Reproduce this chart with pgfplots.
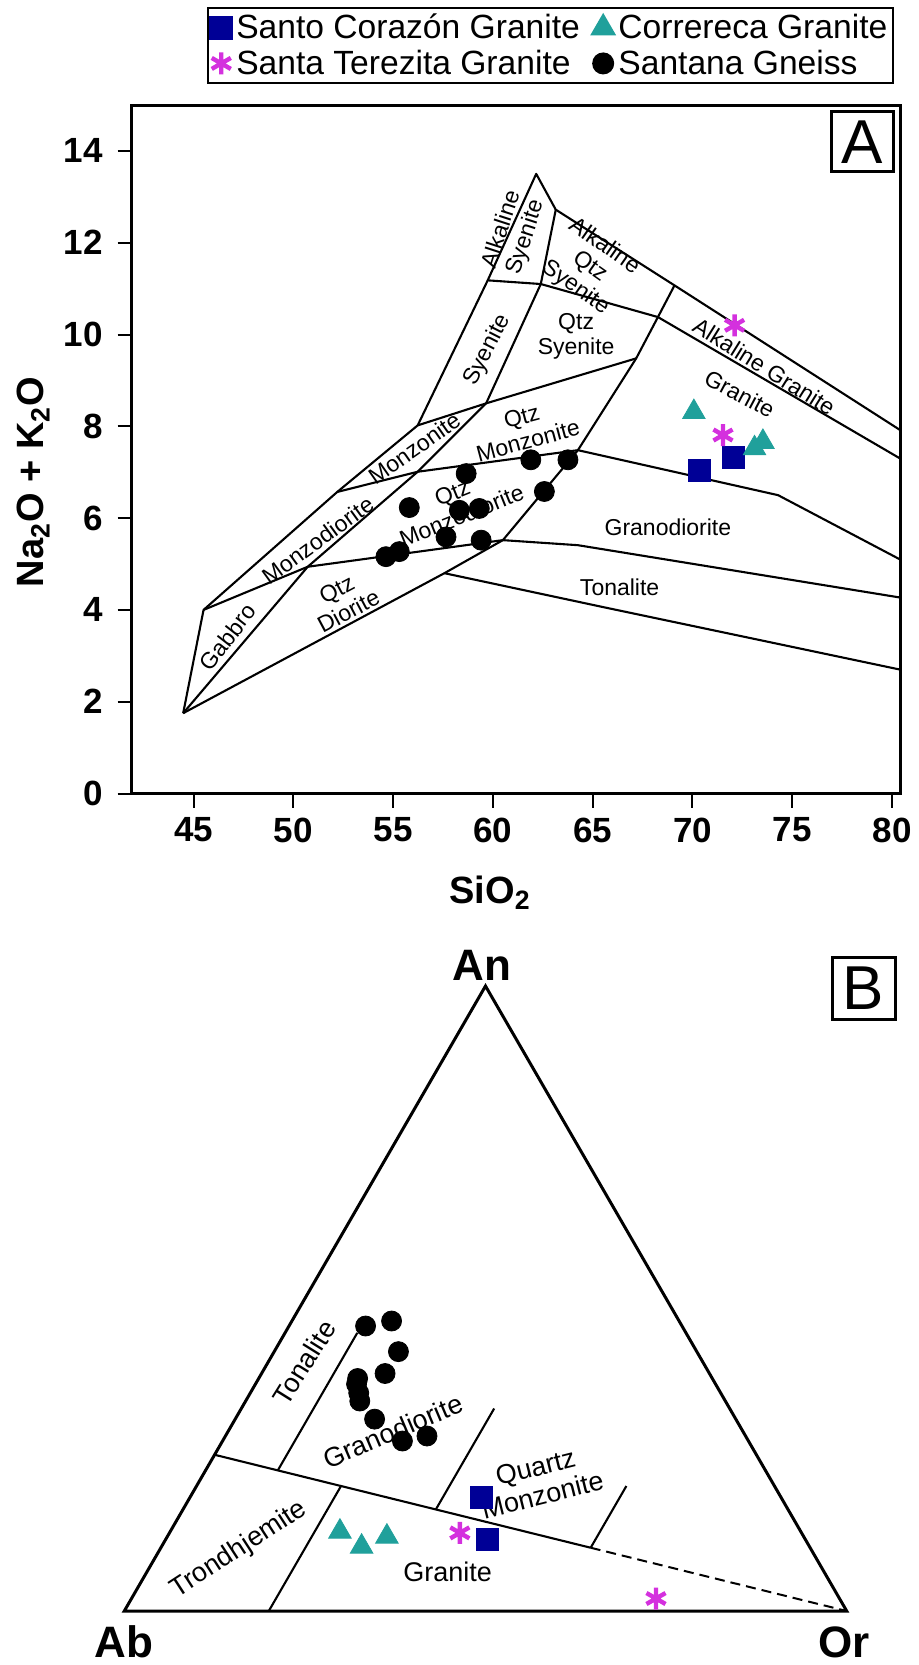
\documentclass[border=0pt]{standalone}
\usepackage{fontspec}
\setmainfont{Liberation Sans}
\usepackage{pgfplots}
\pgfplotsset{compat=1.18}
\usepackage{pgfplotstable}
\definecolor{scblue}{RGB}{0,0,150}
\definecolor{crteal}{RGB}{32,160,155}
\definecolor{stmag}{RGB}{212,48,222}

% TAS data (SiO2, Na2O+K2O)
\pgfplotstableread{
x y
70.36 7.04
72.03 7.32
}\tasSC
\pgfplotstableread{
x y
70.07 8.31
73.53 7.66
73.11 7.52
}\tasCR
\pgfplotstableread{
x y
72.11 10.20
71.53 7.81
}\tasST
\pgfplotstableread{
x y
55.81 6.23
58.66 6.97
58.32 6.17
59.32 6.21
57.65 5.59
59.41 5.52
54.64 5.16
55.31 5.27
61.90 7.27
63.76 7.27
62.58 6.58
}\tasSG

% Ternary data (An, Or in %)
\pgfplotstableread{
An Or
18.1 40.4
11.4 44.5
}\terSC
\pgfplotstableread{
An Or
12.7 23.5
10.3 27.7
11.9 30.4
}\terCR
\pgfplotstableread{
An Or
12.5 40.2
2.0 72.6
}\terST
\pgfplotstableread{
An Or
45.6 10.6
46.4 13.8
41.5 17.2
38.0 17.1
37.2 13.7
36.3 14.0
34.9 15.0
33.6 15.8
30.7 19.3
27.2 24.9
28.0 27.9
}\terSG

\tikzset{
  lab/.style={font=\fontsize{11.5}{12.5}\selectfont, align=center, inner sep=0pt},
  tlab/.style={font=\fontsize{13.5}{14.5}\selectfont, align=center, inner sep=0pt},
}
\pgfplotsset{
  bnd/.style={black, line width=1.05pt, mark=none, line join=round},
  mSC/.style={only marks, mark=square*, mark size=5.5pt, draw=scblue, fill=scblue},
  mCR/.style={only marks, mark=triangle*, mark size=6.5pt, draw=crteal, fill=crteal},
  mST/.style={only marks, mark=asterisk, mark size=5.5pt, draw=stmag, line width=2.2pt},
  mSG/.style={only marks, mark=*, mark size=5pt, draw=black, fill=black},
}

\begin{document}
\begin{tikzpicture}
\useasboundingbox (0,0) rectangle (459.5pt,-832.5pt);

% ---------------- A: TAS -----------------
\begin{axis}[
  at={(65.85pt,-396.75pt)}, anchor=south west,
  scale only axis, width=384.15pt, height=344.25pt,
  xmin=41.9, xmax=80.4, ymin=0, ymax=15,
  xtick={45,50,...,80}, ytick={0,2,...,14},
  tick pos=left, tick align=outside, major tick length=7pt,
  axis line style={line width=1.5pt},
  every tick/.style={black, line width=1pt},
  tick label style={font=\fontsize{17.5}{20}\selectfont\bfseries},
  xticklabel style={yshift=-1.5pt},
  yticklabel style={xshift=-4pt},
  /pgf/number format/assume math mode=true,
  legend columns=2,
  legend cell align=left,
  legend image code/.code={\draw[#1] plot coordinates {(0.22cm,0cm)};},
  legend style={at={(0.5455,1.1423)}, anchor=north, draw=black, line width=1pt,
    font=\fontsize{16.8}{19}\selectfont, inner xsep=1pt, inner ysep=1pt,
    /tikz/every even column/.append style={column sep=4pt}},
]
\addplot[bnd, forget plot] coordinates {(44.48,1.75) (45.5,4.0) (52.2,6.57) (56.23,8.02) (59.74,11.18) (62.17,13.5) (63.15,12.72) (69.1,11.07) (80.4,7.92)};
\addplot[bnd, forget plot] coordinates {(44.48,1.75) (57.57,4.8) (60.5,5.52) (64.26,7.48) (67.18,9.48) (68.27,10.38) (69.1,11.07)};
\addplot[bnd, forget plot] coordinates {(44.48,1.75) (50.72,4.94) (56.23,7.01) (59.66,8.5) (62.4,11.1) (63.15,12.72)};
\addplot[bnd, forget plot] coordinates {(45.5,4.0) (50.72,4.94) (60.5,5.52)};
\addplot[bnd, forget plot] coordinates {(52.2,6.57) (56.23,7.01) (64.26,7.48) (74.29,6.5) (80.4,5.10)};
\addplot[bnd, forget plot] coordinates {(56.23,8.02) (59.66,8.5) (67.18,9.48)};
\addplot[bnd, forget plot] coordinates {(59.74,11.18) (62.4,11.1) (68.27,10.38) (80.4,7.30)};
\addplot[bnd, forget plot] coordinates {(60.5,5.52) (64.26,5.41) (80.4,4.27)};
\addplot[bnd, forget plot] coordinates {(57.57,4.8) (65.43,4.07) (80.4,2.70)};

\node[lab, rotate=72] at (axis cs:61.07,12.2) {Alkaline\\Syenite};
\node[lab, rotate=-35] at (axis cs:64.85,11.47) {Alkaline\\Qtz\\Syenite};
\node[lab, rotate=63] at (axis cs:59.74,9.66) {Syenite};
\node[lab] at (axis cs:64.17,9.95) {Qtz\\Syenite};
\node[lab, rotate=-32] at (axis cs:73.6,9.3) {Alkaline Granite};
\node[lab, rotate=-28] at (axis cs:72.37,8.71) {Granite};
\node[lab, rotate=15] at (axis cs:61.6,7.95) {Qtz\\Monzonite};
\node[lab, rotate=35] at (axis cs:56.06,7.52) {Monzonite};
\node[lab, rotate=36] at (axis cs:51.22,5.52) {Monzodiorite};
\node[lab, rotate=52] at (axis cs:46.7,3.41) {Gabbro};
\node[lab, rotate=28] at (axis cs:52.47,4.21) {Qtz\\Diorite};
\node[lab, rotate=22] at (axis cs:58.2,6.3) {Qtz\\Monzodiorite};
\node[lab] at (axis cs:68.77,5.81) {Granodiorite};
\node[lab] at (axis cs:66.35,4.5) {Tonalite};

\addplot[mSC] table[x=x,y=y] {\tasSC};
\addlegendentry{Santo Corazón Granite}
\addplot[mCR] table[x=x,y=y] {\tasCR};
\addlegendentry{Correreca Granite}
\addplot[mST] table[x=x,y=y] {\tasST};
\addlegendentry{Santa Terezita Granite}
\addplot[mSG] table[x=x,y=y] {\tasSG};
\addlegendentry{Santana Gneiss}
\end{axis}

% ---------------- B: ternary An-Ab-Or -----------------
\begin{axis}[
  at={(62.15pt,-805.5pt)}, anchor=south west,
  scale only axis, width=361.2pt, height=312.5pt,
  xmin=0, xmax=1, ymin=0, ymax=1,
  axis lines=none, clip=false,
]
\addplot[black, line width=1.5pt, mark=none, line join=miter] coordinates {(0,0) (1,0) (0.5,1) (0,0) (1,0)};
\addplot[bnd] coordinates {(0.125,0.25) (0.6456,0.10125)};
\addplot[black, line width=1pt, dash pattern=on 5pt off 3pt, mark=none] coordinates {(0.6456,0.10125) (1,0)};
\addplot[bnd] coordinates {(0.2125,0.225) (0.3225,0.445)};
\addplot[bnd] coordinates {(0.43125,0.1625) (0.512,0.324)};
\addplot[bnd] coordinates {(0.6456,0.10125) (0.695,0.2)};
\addplot[bnd] coordinates {(0.2,0) (0.3,0.2)};

\node[tlab, rotate=58] at (axis cs:0.249,0.3976) {Tonalite};
\node[tlab, rotate=23] at (axis cs:0.3718,0.2878) {Granodiorite};
\node[tlab, rotate=14] at (axis cs:0.574,0.208) {Quartz\\Monzonite};
\node[tlab, rotate=33] at (axis cs:0.1588,0.098) {Trondhjemite};
\node[tlab] at (axis cs:0.4477,0.063) {Granite};

\addplot[mSC] table[x expr=\thisrow{Or}/100+\thisrow{An}/200, y expr=\thisrow{An}/100] {\terSC};
\addplot[mCR] table[x expr=\thisrow{Or}/100+\thisrow{An}/200, y expr=\thisrow{An}/100] {\terCR};
\addplot[mST] table[x expr=\thisrow{Or}/100+\thisrow{An}/200, y expr=\thisrow{An}/100] {\terST};
\addplot[mSG] table[x expr=\thisrow{Or}/100+\thisrow{An}/200, y expr=\thisrow{An}/100] {\terSG};
\end{axis}

% ---------------- labels -----------------
\node[anchor=base, font=\fontsize{19}{21}\selectfont\bfseries] at (245pt,-451.5pt) {SiO\textsubscript{2}};
\node[anchor=base, rotate=90, font=\fontsize{19}{21}\selectfont\bfseries] at (21.5pt,-241pt) {Na\textsubscript{2}O + K\textsubscript{2}O};
\node[draw, line width=1.5pt, minimum width=30.8pt, minimum height=30pt, inner sep=0pt, font=\fontsize{31}{31}\selectfont] at (431.25pt,-70.85pt) {A};
\node[draw, line width=1.5pt, minimum width=31.5pt, minimum height=31pt, inner sep=0pt, font=\fontsize{31}{31}\selectfont] at (431.75pt,-494pt) {B};
\node[anchor=base, font=\fontsize{22}{24}\selectfont\bfseries] at (240.85pt,-490pt) {An};
\node[anchor=base, font=\fontsize{22}{24}\selectfont\bfseries] at (62pt,-828.8pt) {Ab};
\node[anchor=base, font=\fontsize{22}{24}\selectfont\bfseries] at (422pt,-828.8pt) {Or};
\end{tikzpicture}
\end{document}
